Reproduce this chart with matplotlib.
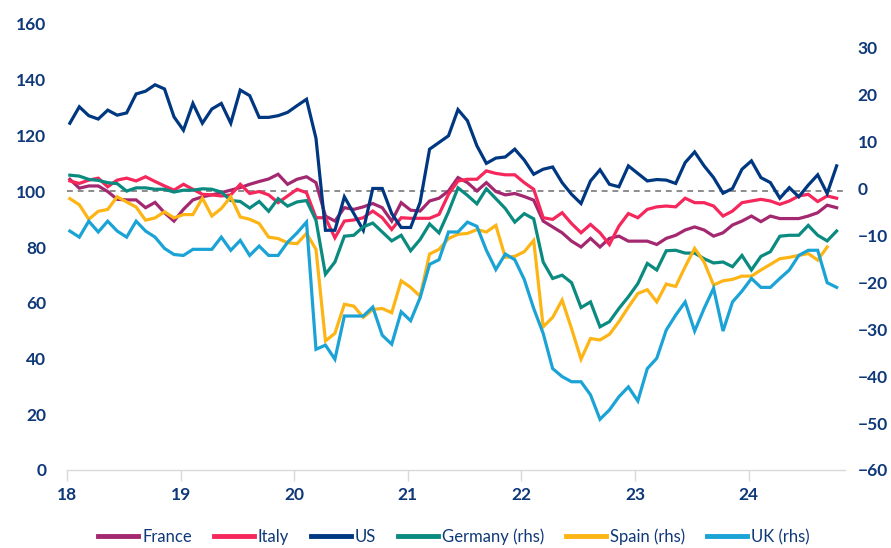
import matplotlib
matplotlib.use("Agg")
import matplotlib.pyplot as plt
from matplotlib.lines import Line2D
import numpy as np

# ---------------- data (monthly, Jan 2018 onwards) ----------------
france = [104.3,101.1,101.9,101.9,99.9,97.1,96.9,96.9,94.1,96.0,92.3,89.3,93.5,96.9,98.0,98.7,99.5,100.4,101.3,102.5,103.5,104.4,106.1,102.5,104.3,
          105.2,103.1,91.1,89.3,94.1,93.5,94.4,95.6,94.1,89.3,95.9,93.2,92.9,96.5,97.5,100.1,104.9,103.1,100.1,103.1,99.9,98.7,99.2,98.1,
          96.8,89.3,87.2,85.1,82.1,80.0,83.1,80.0,83.1,83.9,82.1,82.1,82.1,80.9,83.1,84.2,86.1,87.2,86.1,83.9,85.1,87.9,89.3,91.1,
          89.1,91.1,90.2,90.2,90.2,91.1,92.3,95.0,94.1]
italy = [103.7,102.8,104.0,104.7,101.6,104.0,104.7,103.7,105.2,103.5,101.9,100.4,102.5,100.7,98.9,98.7,98.3,98.7,102.5,99.2,99.9,98.7,95.9,98.3,100.7,
         99.5,90.5,90.5,83.3,89.3,89.7,90.5,92.9,90.5,86.3,90.5,90.3,90.3,90.3,91.7,98.9,103.7,104.3,104.3,107.3,106.4,105.9,105.9,103.1,
         100.7,90.5,89.9,92.3,88.4,85.1,88.1,85.1,80.9,87.5,92.0,90.5,93.5,94.4,94.7,94.4,97.5,95.9,95.9,94.7,91.1,92.9,95.9,96.5,
         97.1,96.5,95.3,96.5,98.3,98.9,96.3,98.3,97.5]
us = [124.4,130.3,127.1,125.9,129.1,127.3,128.1,134.9,135.9,138.2,136.7,126.7,121.9,131.5,124.4,129.5,131.5,124.4,136.3,134.3,126.5,126.5,127.1,128.3,130.7,
      133.0,119.0,86.0,86.0,98.0,92.0,86.0,101.0,101.0,92.0,87.0,87.0,96.0,115.1,117.5,119.9,129.3,125.3,116.3,110.0,111.9,112.3,115.1,111.2,
      106.1,107.9,108.7,103.1,98.9,95.6,103.7,107.7,102.5,101.6,109.1,106.4,103.7,104.2,104.0,102.8,110.3,114.1,109.1,104.9,99.3,101.0,107.9,110.9,
      104.9,103.1,97.5,101.3,98.0,102.2,105.9,99.2,109.1]
germany = [2.8,2.6,1.9,1.7,1.2,1.0,-0.6,0.1,0.1,-0.2,-0.2,-0.8,-0.4,-0.4,-0.1,-0.2,-0.8,-2.6,-2.8,-4.2,-2.8,-4.9,-2.2,-3.8,-2.9,
           -2.6,-6.8,-18.3,-15.7,-10.2,-10.0,-8.2,-7.4,-9.3,-11.2,-10.0,-13.3,-10.9,-7.6,-9.5,-5.0,0.1,-1.5,-3.3,-0.1,-2.2,-4.3,-7.2,-5.4,
           -6.5,-15.7,-19.2,-18.5,-20.1,-25.4,-24.2,-29.5,-28.4,-25.6,-23.1,-20.3,-16.0,-17.4,-13.3,-13.2,-13.8,-13.8,-15.0,-15.9,-15.7,-16.7,-14.3,-17.4,
           -14.5,-13.5,-10.2,-10.0,-10.0,-7.9,-10.0,-11.2,-9.1]
spain = [-2.2,-3.5,-6.6,-4.9,-4.5,-1.8,-2.9,-4.0,-6.8,-6.3,-5.0,-6.3,-5.6,-5.6,-2.1,-5.9,-4.3,-1.8,-6.1,-6.6,-7.5,-10.4,-10.7,-11.6,-11.8,
         -9.6,-13.0,-32.5,-30.9,-24.7,-25.1,-27.5,-25.8,-25.6,-26.5,-19.7,-21.1,-23.0,-14.0,-13.0,-10.7,-9.8,-9.6,-8.8,-9.3,-7.9,-14.7,-14.5,-13.5,
         -11.1,-29.5,-27.5,-23.8,-29.9,-36.4,-32.0,-32.3,-31.1,-28.4,-25.3,-22.4,-21.6,-24.2,-20.4,-20.9,-16.7,-12.8,-15.7,-20.6,-19.7,-19.4,-18.7,-18.7,
         -17.4,-16.2,-15.0,-14.7,-14.3,-13.9,-15.3,-12.5]
uk = [-9.1,-10.4,-7.0,-9.3,-7.0,-9.1,-10.4,-7.0,-9.1,-10.4,-12.8,-14.1,-14.3,-13.0,-13.0,-13.0,-10.4,-13.2,-11.1,-14.3,-12.3,-14.3,-14.3,-11.5,-9.5,
      -7.2,-34.3,-33.4,-36.4,-27.2,-27.2,-27.2,-25.3,-31.3,-33.2,-26.3,-28.2,-23.3,-16.2,-15.2,-9.3,-9.3,-7.2,-8.1,-13.2,-17.3,-14.0,-15.2,-19.4,
      -25.6,-30.9,-38.4,-40.1,-41.2,-41.2,-44.0,-49.2,-47.2,-44.4,-42.3,-45.3,-38.4,-36.2,-30.2,-27.0,-24.2,-30.4,-25.6,-21.3,-30.4,-24.2,-21.9,-19.2,
      -21.1,-21.1,-19.2,-17.4,-14.3,-13.2,-13.2,-20.1,-21.1]

year_labels = ["18", "19", "20", "21", "22", "23", "24"]
left_ticks = [0, 20, 40, 60, 80, 100, 120, 140, 160]
right_ticks = [-60, -50, -40, -30, -20, -10, 0, 10, 20, 30]

# ---------------- style ----------------
NAVY = "#0E3878"
C_FR = "#A3286F"
C_IT = "#F5275B"
C_US = "#003781"
C_DE = "#0B8A80"
C_ES = "#FDB515"
C_UK = "#1BA3D6"
FONT = "Lato"

def xs(n):
    return 18 + (np.arange(n) + 0.3) / 12.0

fig = plt.figure(figsize=(8.91, 5.48), dpi=100)
ax = fig.add_axes([67/891, 78/548, (845-67)/891, (470-24)/548])
ax2 = ax.twinx()

lw = 2.3
ax.plot(xs(len(france)), france, color=C_FR, lw=lw, solid_joinstyle="miter")
ax.plot(xs(len(italy)), italy, color=C_IT, lw=lw, solid_joinstyle="miter")
ax.plot(xs(len(us)), us, color=C_US, lw=lw, solid_joinstyle="miter", zorder=5)
ax.axhline(100, color="#8c8c8c", lw=1.4, ls=(0, (3, 2.5)), zorder=1)

ax2.plot(xs(len(germany)), germany, color=C_DE, lw=lw, solid_joinstyle="miter")
ax2.plot(xs(len(spain)), spain, color=C_ES, lw=lw, solid_joinstyle="miter")
ax2.plot(xs(len(uk)), uk, color=C_UK, lw=lw, solid_joinstyle="miter")

ax.set_xlim(18, 18 + (845-67)/113.6)
ax.set_ylim(0, 160)
ax2.set_ylim(-60, 35)

ax.set_xticks(range(18, 25))
ax.set_xticklabels(year_labels)
ax.set_yticks(left_ticks)
ax2.set_yticks(right_ticks)

for a in (ax, ax2):
    for s in ("top", "left", "right"):
        a.spines[s].set_visible(False)
ax2.spines["bottom"].set_visible(False)
ax.spines["bottom"].set_color("#d9d9d9")
ax.spines["bottom"].set_linewidth(1.0)

ax.tick_params(axis="x", direction="out", length=8, width=1.0, color="#d9d9d9",
               pad=4, labelsize=12.5, labelcolor=NAVY)
ax.tick_params(axis="y", length=0, pad=15, labelsize=12.5, labelcolor=NAVY)
ax2.tick_params(axis="y", length=0, pad=9, labelsize=12.5, labelcolor=NAVY)
for lab in ax.get_xticklabels() + ax.get_yticklabels() + ax2.get_yticklabels():
    lab.set_fontfamily(FONT)
    lab.set_fontweight("bold")

handles = [Line2D([], [], color=c, lw=3.5) for c in (C_FR, C_IT, C_US, C_DE, C_ES, C_UK)]
labels = ["France", "Italy", "US", "Germany (rhs)", "Spain (rhs)", "UK (rhs)"]
leg = fig.legend(handles, labels, loc="center", bbox_to_anchor=(454/891, 1 - 537/548),
                 ncol=6, frameon=False, handlelength=2.4, handletextpad=0.25,
                 columnspacing=1.3, prop={"family": FONT, "size": 12})
for t in leg.get_texts():
    t.set_color(NAVY)

fig.savefig("out.png", dpi=100)
